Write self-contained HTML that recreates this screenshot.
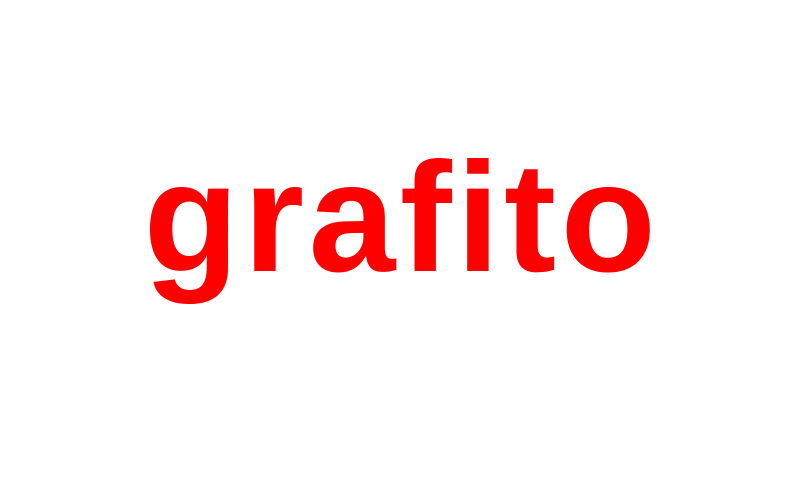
<!DOCTYPE html>
<html>
<head>
<meta charset="utf-8">
<style>
  html, body { margin: 0; padding: 0; background: #ffffff; }
  body { width: 800px; height: 480px; overflow: hidden; }
  svg { display: block; }
</style>
</head>
<body>
<svg width="800" height="480" viewBox="0 0 800 480">
  <rect x="0" y="0" width="800" height="480" fill="#ffffff"/>
  <text x="402" y="271" text-anchor="middle" fill="#ff0000" letter-spacing="4.5"
        font-family="'Liberation Sans', Arial, sans-serif" font-weight="bold" font-size="156"
       >grafito</text>
</svg>
</body>
</html>
